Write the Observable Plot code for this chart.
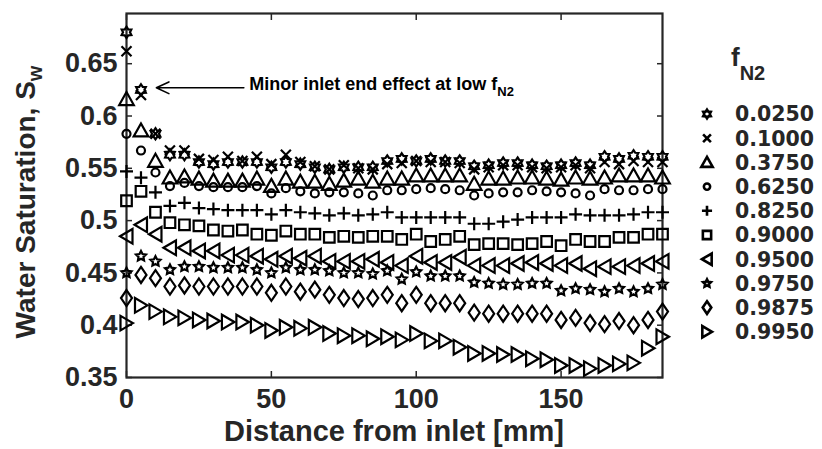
<!DOCTYPE html>
<html><head><meta charset="utf-8">
<script src="https://cdn.jsdelivr.net/npm/d3@7"></script>
<script src="https://cdn.jsdelivr.net/npm/@observablehq/plot@0.6"></script>
<style>
html,body{margin:0;padding:0;background:#fff;}
#chart{position:relative;width:822px;height:449px;}
#chart svg{display:block}
</style></head><body><div id="chart"></div>
<script>
// ---------- data ----------
const distance = [0,5,10,15,20,25,30,35,40,45,50,55,60,65,70,75,80,85,90,95,100,105,110,115,120,125,130,135,140,145,150,155,160,165,170,175,180,185];
const fN2 = ["0.0250","0.1000","0.3750","0.6250","0.8250","0.9000","0.9500","0.9750","0.9875","0.9950"];
const s0250 = [0.680,0.625,0.583,0.563,0.563,0.556,0.554,0.556,0.556,0.556,0.551,0.556,0.554,0.551,0.549,0.551,0.551,0.551,0.557,0.559,0.557,0.559,0.557,0.557,0.552,0.553,0.555,0.555,0.553,0.552,0.553,0.555,0.553,0.561,0.559,0.562,0.561,0.561];
const s1000 = [0.662,0.620,0.583,0.567,0.567,0.559,0.558,0.561,0.557,0.561,0.554,0.563,0.556,0.552,0.549,0.553,0.550,0.549,0.554,0.555,0.557,0.556,0.556,0.555,0.549,0.551,0.553,0.553,0.551,0.550,0.551,0.553,0.550,0.556,0.554,0.557,0.556,0.556];
const s3750 = [0.616,0.586,0.557,0.541,0.542,0.540,0.538,0.538,0.538,0.540,0.533,0.540,0.537,0.537,0.535,0.538,0.540,0.537,0.540,0.540,0.543,0.543,0.543,0.543,0.535,0.540,0.540,0.541,0.541,0.540,0.539,0.541,0.540,0.541,0.543,0.543,0.543,0.541];
const s6250 = [0.583,0.567,0.546,0.533,0.536,0.533,0.532,0.532,0.532,0.533,0.526,0.531,0.528,0.526,0.527,0.527,0.526,0.524,0.529,0.529,0.530,0.531,0.530,0.529,0.524,0.526,0.527,0.527,0.529,0.528,0.527,0.526,0.524,0.530,0.529,0.529,0.530,0.530];
const s8250 = [0.547,0.541,0.527,0.514,0.517,0.512,0.511,0.510,0.510,0.510,0.506,0.510,0.508,0.507,0.505,0.507,0.505,0.506,0.508,0.503,0.503,0.503,0.503,0.503,0.497,0.497,0.499,0.501,0.503,0.503,0.503,0.506,0.505,0.505,0.505,0.506,0.508,0.508];
const s9000 = [0.519,0.528,0.508,0.498,0.496,0.495,0.491,0.490,0.491,0.487,0.486,0.490,0.487,0.487,0.484,0.485,0.484,0.485,0.485,0.482,0.487,0.480,0.482,0.485,0.477,0.478,0.478,0.477,0.478,0.480,0.476,0.482,0.480,0.480,0.484,0.484,0.487,0.487];
const s9500 = [0.485,0.496,0.487,0.474,0.474,0.471,0.471,0.467,0.467,0.466,0.463,0.466,0.464,0.466,0.461,0.461,0.461,0.463,0.460,0.457,0.466,0.460,0.460,0.465,0.457,0.457,0.457,0.459,0.460,0.459,0.457,0.459,0.454,0.456,0.456,0.457,0.459,0.461];
const s9750 = [0.450,0.466,0.461,0.453,0.456,0.456,0.455,0.455,0.455,0.453,0.450,0.455,0.453,0.453,0.452,0.450,0.450,0.449,0.452,0.444,0.451,0.447,0.447,0.447,0.441,0.440,0.439,0.439,0.440,0.440,0.433,0.435,0.434,0.432,0.435,0.432,0.435,0.439];
const s9875 = [0.426,0.448,0.445,0.437,0.438,0.437,0.437,0.437,0.437,0.437,0.431,0.437,0.432,0.434,0.429,0.426,0.425,0.426,0.429,0.421,0.429,0.421,0.421,0.421,0.412,0.411,0.411,0.411,0.411,0.411,0.405,0.407,0.402,0.401,0.404,0.400,0.405,0.413];
const s9950 = [0.402,0.419,0.413,0.408,0.407,0.405,0.404,0.403,0.403,0.400,0.395,0.398,0.397,0.398,0.392,0.390,0.390,0.387,0.389,0.386,0.392,0.385,0.385,0.379,0.373,0.373,0.372,0.372,0.368,0.367,0.3615,0.3615,0.3585,0.3615,0.363,0.364,0.378,0.389];
const xTicks = [0,50,100,150];
const yTicks = [0.35,0.4,0.45,0.5,0.55,0.6,0.65];
const annotation = [{x1: 40.5, x2: 10.3, y: 0.627, label: "Minor inlet end effect at low f", sub: "N2"}];

// ---------- marker shapes (MATLAB-like) ----------
function sym(fn){ return {draw(c, size){ fn(c, Math.sqrt(size/Math.PI)); }}; }
function poly(c, pts){ pts.forEach((p,i)=> i ? c.lineTo(p[0],p[1]) : c.moveTo(p[0],p[1])); c.closePath(); }
function star(c, n, R, r){ const pts=[]; for(let i=0;i<2*n;i++){ const a=i*Math.PI/n - Math.PI/2; const rr=i%2?r:R; pts.push([rr*Math.cos(a), rr*Math.sin(a)]);} poly(c, pts); }
const hexagram = sym((c,s)=> star(c, 6, 5.6*s, 5.6*s*0.62));
const times = sym((c,s)=>{ const h=5*s; c.moveTo(-h,-h); c.lineTo(h,h); c.moveTo(h,-h); c.lineTo(-h,h); });
const triUp = sym((c,s)=> poly(c, [[0,-7.2*s],[7.3*s,5.8*s],[-7.3*s,5.8*s]]));
const circ = sym((c,s)=>{ const r=4*s; c.moveTo(r,0); c.arc(0,0,r,0,2*Math.PI); });
const plus = sym((c,s)=>{ const h=6.5*s; c.moveTo(-h,0); c.lineTo(h,0); c.moveTo(0,-h); c.lineTo(0,h); });
const square = sym((c,s)=>{ const h=5.3*s; poly(c, [[-h,-h],[h,-h],[h,h],[-h,h]]); });
const triLeft = sym((c,s)=> poly(c, [[-6.5*s,0],[6*s,-7.3*s],[6*s,7.3*s]]));
const pentagram = sym((c,s)=> star(c, 5, 5.2*s, 5.2*s*0.5));
const diamond = sym((c,s)=> poly(c, [[0,-8*s],[5.5*s,0],[0,8*s],[-5.5*s,0]]));
const triRight = sym((c,s)=> poly(c, [[6.5*s,0],[-6*s,-7.3*s],[-6*s,7.3*s]]));

const seriesValues = [s0250,s1000,s3750,s6250,s8250,s9000,s9500,s9750,s9875,s9950];
const seriesShapes = [hexagram,times,triUp,circ,plus,square,triLeft,pentagram,diamond,triRight];
const rows = fN2.flatMap((f,i)=> distance.map((d,j)=>({f, x:d, y:seriesValues[i][j]})));

// ---------- chart ----------
const W=822, H=449, mL=126, mR=160, mT=13, mB=72;
const font = "'Liberation Sans', Arial, Helvetica, sans-serif";
const wideFont = "'DejaVu Sans', 'Liberation Sans', sans-serif";
const ink = "#262626";

const plot = Plot.plot({
  width: W, height: H, marginLeft: mL, marginRight: mR, marginTop: mT, marginBottom: mB,
  style: {fontFamily: font, background: "white", color: ink, overflow: "visible"},
  x: {domain: [0, 185], axis: null},
  y: {domain: [0.35, 0.698], axis: null},
  marks: [
    Plot.frame({stroke: ink, strokeWidth: 2.2}),
    Plot.axisX({ticks: xTicks, anchor: "bottom", tickSize: -6, fill: "none", label: null, strokeWidth: 1.5}),
    Plot.axisX({ticks: xTicks, anchor: "top", tickSize: -6, fill: "none", label: null, strokeWidth: 1.5}),
    Plot.axisY({ticks: yTicks, anchor: "left", tickSize: -6, fill: "none", label: null, strokeWidth: 1.5}),
    Plot.axisY({ticks: yTicks, anchor: "right", tickSize: -6, fill: "none", label: null, strokeWidth: 1.5}),
    Plot.axisX({ticks: xTicks, anchor: "bottom", tickSize: 0, tickPadding: 11, tickFormat: d => String(d), label: null, fontSize: 27, fontWeight: "bold", fill: ink}),
    Plot.axisY({ticks: yTicks, anchor: "left", tickSize: 0, tickPadding: 9, tickFormat: d => String(d), label: null, fontSize: 27, fontWeight: "bold", fill: ink}),
    ...fN2.map((f,i) => Plot.dot(rows.filter(r => r.f === f), {x: "x", y: "y", symbol: seriesShapes[i], r: 1, stroke: "black", strokeWidth: 2.2, fill: "none"})),
    Plot.arrow(annotation, {x1: "x1", x2: "x2", y1: "y", y2: "y", stroke: "black", strokeWidth: 1.6, headLength: 13, headAngle: 50})
  ]
});
document.getElementById("chart").appendChild(plot);

const svg = d3.select(plot);
const xs = plot.scale("x"), ys = plot.scale("y");

// axis titles
const yl = svg.append("text")
  .attr("transform", `translate(35,${(mT + H - mB)/2 + 7}) rotate(-90)`)
  .attr("text-anchor", "middle").attr("fill", ink)
  .style("font", `bold 28px ${font}`)
  .text("Water Saturation, S");
yl.append("tspan").attr("dy", 7).style("font-size", "20px").text("w");

svg.append("text")
  .attr("x", (mL + W - mR)/2).attr("y", 441)
  .attr("text-anchor", "middle").attr("fill", ink)
  .style("font", `bold 29px ${font}`)
  .text("Distance from inlet [mm]");

// annotation text
annotation.forEach(a => {
  const t = svg.append("text")
    .attr("x", xs.apply(a.x1) + 6).attr("y", ys.apply(a.y) + 3)
    .attr("text-anchor", "start")
    .attr("fill", "black").style("font", `bold 18px ${font}`)
    .text(a.label);
  t.append("tspan").attr("dy", 6).style("font-size", "13px").text(a.sub);
});

// legend
const lg = svg.append("g").attr("text-anchor", "start");
const lt = lg.append("text").attr("x", 731).attr("y", 66).attr("fill", ink)
  .style("font", `bold 26px ${font}`).text("f");
lt.append("tspan").attr("dy", 14).style("font-size", "20px").text("N2");
fN2.forEach((f,i) => {
  const cy = 114 + i*24.2;
  lg.append("path")
    .attr("transform", `translate(707,${cy})`)
    .attr("d", d3.symbol(seriesShapes[i], Math.PI*0.78*0.78)())
    .attr("fill", "none").attr("stroke", "black").attr("stroke-width", 2.6);
  lg.append("text").attr("x", 735).attr("y", cy).attr("dy", "0.36em")
    .attr("fill", ink).style("font", `bold 20.5px ${wideFont}`).text(f);
});
</script></body></html>
